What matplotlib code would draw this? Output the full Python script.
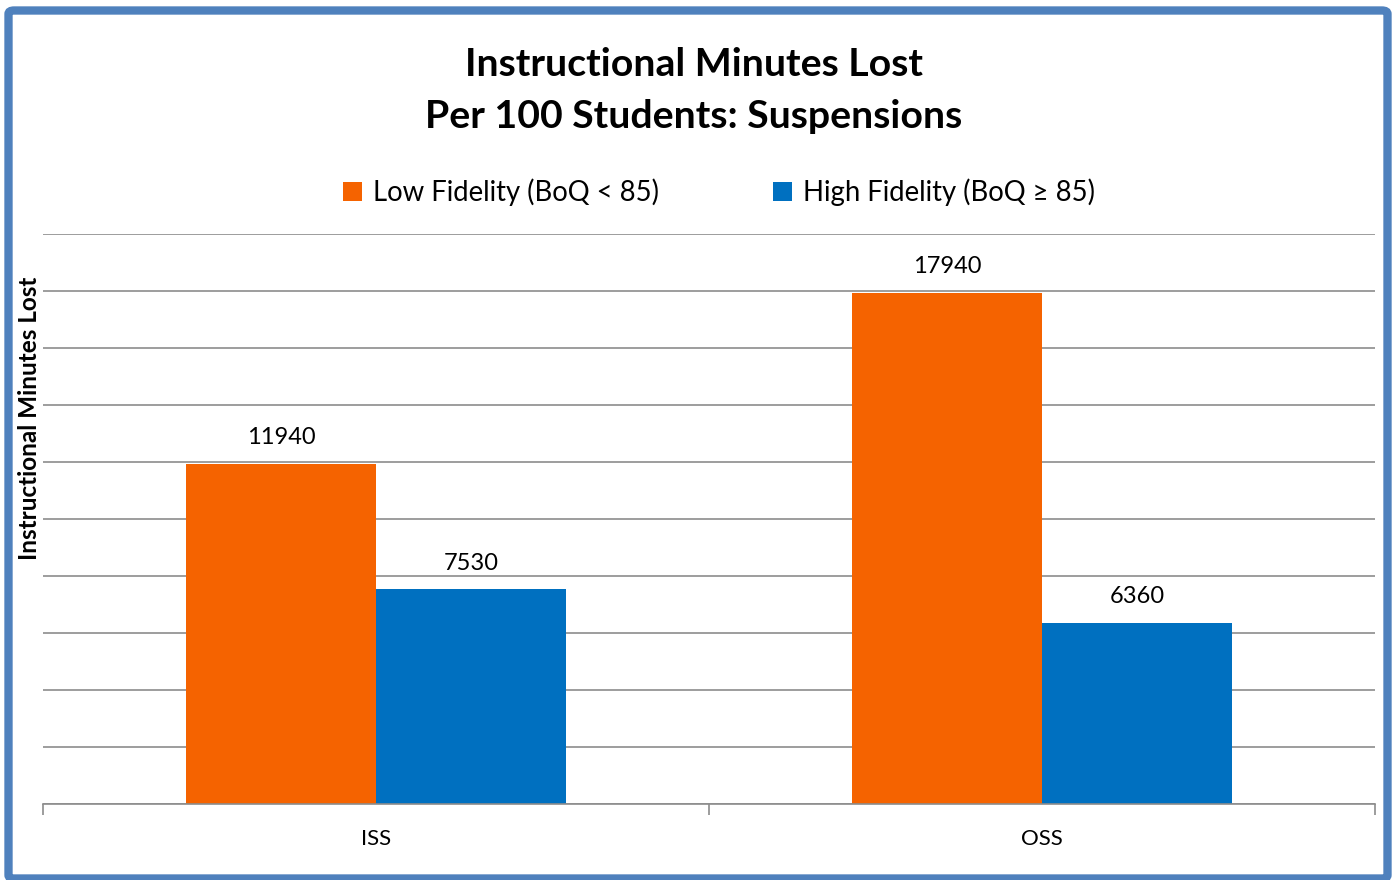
import matplotlib
matplotlib.use("Agg")
import matplotlib.pyplot as plt
from matplotlib.patches import FancyBboxPatch
import numpy as np

categories = ["ISS", "OSS"]
series_names = ["Low Fidelity (BoQ < 85)", "High Fidelity (BoQ \u2265 85)"]
low_values = [11940, 17940]
high_values = [7530, 6360]
colors = ["#F56300", "#0070C0"]
title_lines = ["Instructional Minutes Lost", "Per 100 Students: Suspensions"]
ylabel = "Instructional Minutes Lost"

plt.rcParams['font.family'] = ['Lato', 'DejaVu Sans']

W, H = 1396, 880
fig = plt.figure(figsize=(W / 100, H / 100), dpi=100)

# border
border = FancyBboxPatch((8.5 / W, 1.5 / H), (W - 17) / W, (H - 12) / H,
                        boxstyle="round,pad=0,rounding_size=0.004",
                        transform=fig.transFigure, fill=False,
                        edgecolor="#4F81BD", linewidth=6, zorder=10)
fig.patches.append(border)

ax = fig.add_axes([43 / W, 1 - 804 / H, (1375 - 43) / W, (804 - 234) / H])
x = np.arange(len(categories))
bw = 0.285
b1 = ax.bar(x - bw / 2, low_values, bw, color=colors[0], label=series_names[0], zorder=2)
b2 = ax.bar(x + bw / 2, high_values, bw, color=colors[1], label=series_names[1], zorder=2)

ax.set_xlim(-0.5, 1.5)
ax.set_ylim(0, 20000)
ax.set_yticks(np.arange(0, 20001, 2000))
ax.yaxis.grid(True, color="#8C8C8C", linewidth=1.2, zorder=0)
ax.tick_params(axis="y", left=False, labelleft=False)
ax.set_xticks([-0.5, 0.5, 1.5], minor=False)
ax.set_xticklabels([])
ax.set_xticks(x, minor=True)
ax.set_xticklabels(categories, minor=True, fontsize=16)
ax.tick_params(axis="x", which="major", direction="out", length=8, color="#8C8C8C", width=1.2)
ax.tick_params(axis="x", which="minor", length=0, pad=18)
for s in ["top", "right", "left"]:
    ax.spines[s].set_visible(False)
ax.spines["bottom"].set_color("#8C8C8C")
ax.spines["bottom"].set_linewidth(1.2)
ax.spines["bottom"].set_zorder(3)

for bars in (b1, b2):
    for r in bars:
        ax.annotate(f"{int(r.get_height())}", (r.get_x() + r.get_width() / 2, r.get_height()),
                    xytext=(0, 11), textcoords="offset points", ha="center", va="bottom",
                    fontsize=17)

fig.text(694 / W, 1 - 65 / H, title_lines[0], ha="center", va="center", fontsize=28.3, fontweight="bold")
fig.text(694 / W, 1 - 117 / H, title_lines[1], ha="center", va="center", fontsize=28.3, fontweight="bold")
fig.text(30 / W, 1 - 418 / H, ylabel, ha="center", va="center", rotation=90, fontsize=17.5, fontweight="bold")

leg = fig.legend(handles=[b1, b2], labels=series_names, loc="center", bbox_to_anchor=(719 / W, 1 - 192 / H),
                 ncol=2, frameon=False, fontsize=19.8, handlelength=0.7, handleheight=0.7,
                 handletextpad=0.4, columnspacing=4.15)

fig.savefig("out.png", dpi=100)
